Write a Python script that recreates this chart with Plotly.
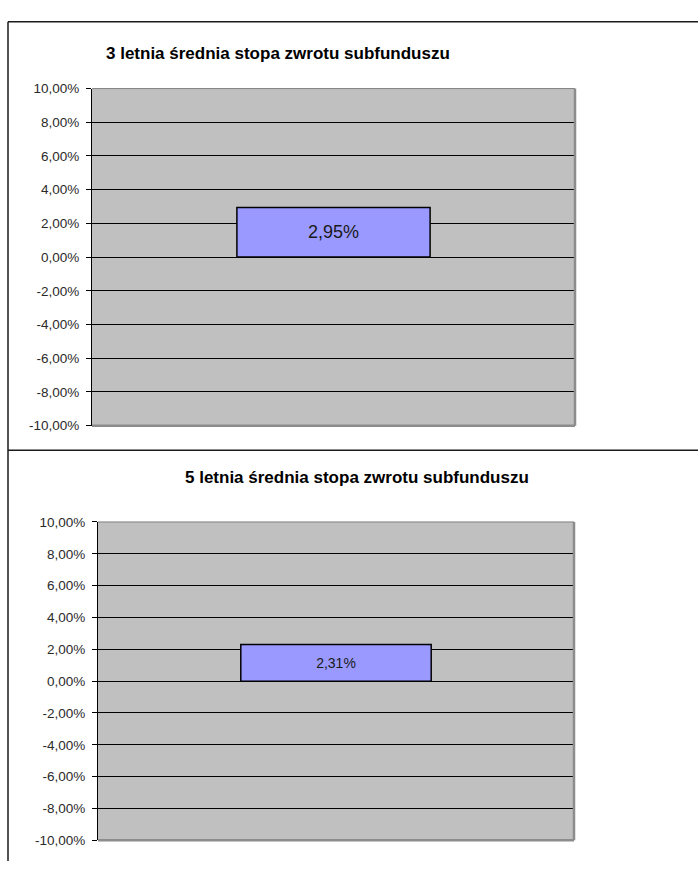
import plotly.graph_objects as go

# ---- data ----
categories = [""]
avg3_values = [0.0295]
avg5_values = [0.0231]
avg3_labels = ["2,95%"]
avg5_labels = ["2,31%"]
tick_vals = [-0.10, -0.08, -0.06, -0.04, -0.02, 0.0, 0.02, 0.04, 0.06, 0.08, 0.10]
tick_text = ["-10,00%", "-8,00%", "-6,00%", "-4,00%", "-2,00%", "0,00%",
             "2,00%", "4,00%", "6,00%", "8,00%", "10,00%"]
title3 = "3 letnia średnia stopa zwrotu subfunduszu"
title5 = "5 letnia średnia stopa zwrotu subfunduszu"

W, H = 698, 869
def px(x):
    return x / W
def py(y):
    return 1 - y / H

FONT = "Liberation Sans, Arial, sans-serif"
BAR_COLOR = "#9999FF"
PLOT_BG = "#C0C0C0"

fig = go.Figure()
fig.add_trace(go.Bar(
    x=categories, y=avg3_values, text=avg3_labels, textposition="inside",
    insidetextanchor="middle", textangle=0,
    textfont=dict(family=FONT, size=18, color="#1a1a1a"),
    marker=dict(color=BAR_COLOR, line=dict(color="black", width=1.5)),
    width=0.4, xaxis="x", yaxis="y", showlegend=False, hoverinfo="skip"))
fig.add_trace(go.Bar(
    x=categories, y=avg5_values, text=avg5_labels, textposition="inside",
    insidetextanchor="middle", textangle=0,
    textfont=dict(family=FONT, size=14, color="#1a1a1a"),
    marker=dict(color=BAR_COLOR, line=dict(color="black", width=1.5)),
    width=0.4, xaxis="x2", yaxis="y2", showlegend=False, hoverinfo="skip"))

def yax(domain, anchor):
    return dict(domain=domain, anchor=anchor, range=[-0.1, 0.1],
                tickvals=tick_vals, ticktext=tick_text,
                tickfont=dict(family=FONT, size=13.5, color="#2a2a2a"),
                ticklabelstandoff=4,
                showgrid=True, gridcolor="black", gridwidth=1,
                zeroline=True, zerolinecolor="black", zerolinewidth=1,
                showline=True, linecolor="black", linewidth=1,
                ticks="outside", ticklen=5, tickcolor="black", tickwidth=1,
                fixedrange=True)

def xax(domain, anchor):
    return dict(domain=domain, anchor=anchor, range=[-0.5, 0.5],
                showticklabels=False, showgrid=False, zeroline=False,
                showline=False, ticks="", fixedrange=True)

fig.update_layout(
    width=W, height=H, autosize=False,
    margin=dict(l=0, r=0, t=0, b=0),
    paper_bgcolor="white", plot_bgcolor=PLOT_BG,
    xaxis=xax([px(92), px(575)], "y"),
    yaxis=yax([py(426), py(83)], "x"),
    xaxis2=xax([px(98), px(574)], "y2"),
    yaxis2=yax([py(848), py(524)], "x2"),
    bargap=0,
)

shapes = []
for xr, yr in [("x domain", "y domain"), ("x2 domain", "y2 domain")]:
    shapes.append(dict(type="line", xref=xr, yref=yr, x0=0, x1=1, y0=1, y1=1,
                       line=dict(color="#808080", width=1)))
    shapes.append(dict(type="line", xref=xr, yref=yr, x0=1, x1=1, y0=0, y1=1,
                       line=dict(color="#8c8c8c", width=2.5)))
    shapes.append(dict(type="line", xref=xr, yref=yr, x0=0, x1=1, y0=0, y1=0,
                       line=dict(color="#8c8c8c", width=2.5)))
shapes.append(dict(type="line", xref="paper", yref="paper", x0=px(8), x1=1.0,
                   y0=py(15), y1=py(15), line=dict(color="#1a1a1a", width=1.5)))
shapes.append(dict(type="line", xref="paper", yref="paper", x0=px(8), x1=px(8),
                   y0=py(15), y1=0, line=dict(color="#1a1a1a", width=1.5)))
shapes.append(dict(type="line", xref="paper", yref="paper", x0=px(8), x1=1.0,
                   y0=py(451), y1=py(451), line=dict(color="#1a1a1a", width=1.5)))
fig.update_layout(shapes=shapes)

fig.add_annotation(text=title3, xref="paper", yref="paper",
                   x=px(277.5), y=py(47), xanchor="center", yanchor="middle",
                   showarrow=False,
                   font=dict(family=FONT, size=17, color="black", weight="bold"))
fig.add_annotation(text=title5, xref="paper", yref="paper",
                   x=px(357), y=py(479), xanchor="center", yanchor="middle",
                   showarrow=False,
                   font=dict(family=FONT, size=17, color="black", weight="bold"))

fig.write_html("out.html", config={"displayModeBar": False, "staticPlot": True},
               post_script="document.body.style.margin='0';")
